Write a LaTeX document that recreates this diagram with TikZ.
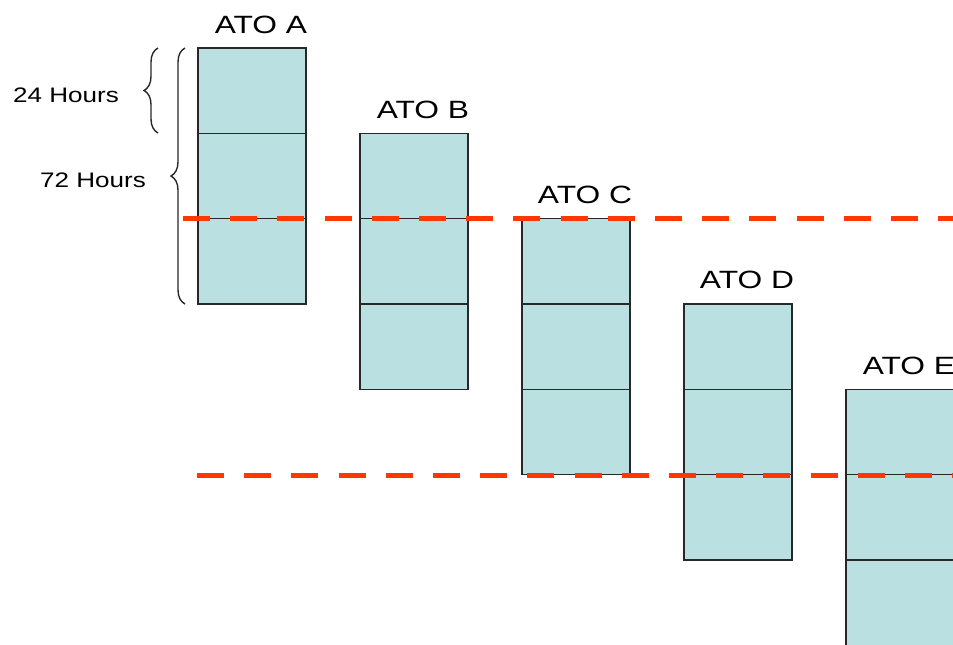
\documentclass[tikz,border=0pt]{standalone}
\usepackage{fontspec}
\setmainfont{Liberation Sans}
\usetikzlibrary{decorations.pathreplacing}
\definecolor{cellfill}{RGB}{187,224,226}
\definecolor{dashred}{RGB}{255,55,0}
\definecolor{edge}{RGB}{40,40,40}
\begin{document}
\begin{tikzpicture}[x=1pt,y=-1pt,
  cell/.style={fill=cellfill, minimum width=108pt, minimum height=85.33pt, inner sep=0pt, outer sep=0pt, anchor=north west},
  celledge/.style={draw=edge, line width=1.2pt},
  atolabel/.style={font=\fontsize{25}{25}\selectfont, xscale=1.27, anchor=base, inner sep=0pt},
  hourlabel/.style={font=\fontsize{21}{21}\selectfont, xscale=1.24, inner sep=0pt},
  cutline/.style={dashred, line width=5pt, dash pattern=on 27pt off 20.2pt},
  bracestyle/.style={draw=edge, line width=1.4pt, decorate, decoration={brace, amplitude=14pt}}
]
\useasboundingbox (0,0) rectangle (953,645);
\clip (0,0) rectangle (953,645);
\foreach \i/\n in {0/A,1/B,2/C,3/D,4/E}{
  \node[cell] (\n1) at ({198+162*\i},{48+85.33*\i}) {};
  \node[cell] (\n2) at (\n1.south west) {};
  \node[cell] (\n3) at (\n2.south west) {};
  \draw[celledge] (\n1.north west) rectangle (\n1.south east);
  \draw[celledge] (\n2.north west) rectangle (\n2.south east);
  \draw[celledge] (\n3.north west) rectangle (\n3.south east);
  \node[atolabel] (lbl\n) at ({198+162*\i+63},{48+85.33*\i-15}) {ATO \n};
}
% braces
\coordinate (b1s) at (158,133);
\coordinate (b1e) at (158,48);
\draw[bracestyle] (b1s) -- (b1e);
\coordinate (b2s) at (185,304);
\coordinate (b2e) at (185,48);
\draw[bracestyle] (b2s) -- (b2e);
\node[hourlabel] (h24) at (66,95) {24 Hours};
\node[hourlabel] (h72) at (93,180) {72 Hours};
% dashed lines
\coordinate (d1s) at (183,218);
\coordinate (d1e) at (965,218);
\draw[cutline] (d1s) -- (d1e);
\coordinate (d2s) at (197,475);
\coordinate (d2e) at (965,475);
\draw[cutline] (d2s) -- (d2e);
\end{tikzpicture}
\end{document}
